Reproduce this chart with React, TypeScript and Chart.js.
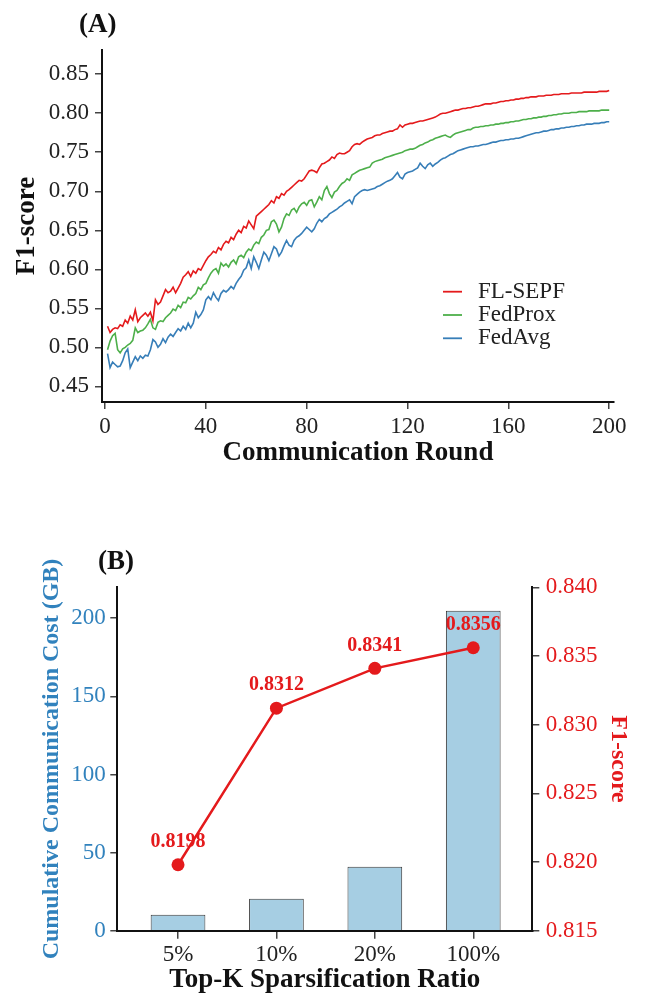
import React, { useEffect, useRef } from 'react';
import { Chart, registerables } from 'chart.js';

Chart.register(...registerables);

const FONT = '"Liberation Serif", "Times New Roman", serif';

// ---------- Panel (A) data ----------
const seriesNamesA = ['FL-SEPF', 'FedProx', 'FedAvg'];
const seriesColorsA = ['#e41a1c', '#4daf4a', '#377eb8'];

const flSepf = [
  0.527,0.519,0.523,0.525,0.524,0.529,0.527,0.535,0.531,0.540,
  0.535,0.548,0.533,0.538,0.541,0.544,0.540,0.545,0.534,0.561,
  0.555,0.558,0.566,0.574,0.570,0.572,0.577,0.570,0.576,0.582,
  0.590,0.593,0.597,0.591,0.598,0.595,0.601,0.599,0.605,0.611,
  0.616,0.619,0.623,0.621,0.628,0.625,0.632,0.636,0.634,0.641,
  0.638,0.645,0.650,0.647,0.655,0.653,0.662,0.657,0.652,0.668,
  0.671,0.674,0.677,0.680,0.683,0.688,0.685,0.693,0.691,0.697,
  0.695,0.700,0.702,0.705,0.708,0.711,0.714,0.713,0.716,0.721,
  0.726,0.727,0.726,0.724,0.730,0.735,0.736,0.738,0.740,0.744,
  0.742,0.747,0.749,0.748,0.748,0.750,0.752,0.757,0.760,0.761,
  0.760,0.763,0.765,0.767,0.768,0.769,0.771,0.772,0.772,0.774,
  0.775,0.776,0.777,0.777,0.779,0.780,0.785,0.782,0.785,0.786,
  0.787,0.787,0.788,0.789,0.790,0.790,0.791,0.792,0.793,0.794,
  0.795,0.797,0.799,0.800,0.800,0.801,0.802,0.803,0.804,0.804,
  0.805,0.806,0.806,0.807,0.807,0.808,0.809,0.809,0.810,0.811,
  0.812,0.812,0.812,0.813,0.813,0.814,0.815,0.815,0.816,0.816,
  0.817,0.817,0.818,0.818,0.819,0.819,0.820,0.820,0.821,0.821,
  0.821,0.822,0.822,0.822,0.823,0.823,0.823,0.824,0.824,0.824,
  0.825,0.825,0.825,0.825,0.826,0.826,0.826,0.826,0.826,0.827,
  0.827,0.827,0.827,0.827,0.827,0.828,0.828,0.828,0.828,0.829,
];

const fedProx = [
  0.497,0.508,0.515,0.518,0.497,0.493,0.498,0.500,0.503,0.505,
  0.509,0.525,0.519,0.521,0.522,0.525,0.530,0.536,0.525,0.523,
  0.532,0.534,0.533,0.538,0.541,0.544,0.549,0.547,0.554,0.551,
  0.558,0.557,0.564,0.562,0.566,0.569,0.577,0.574,0.580,0.582,
  0.589,0.595,0.599,0.601,0.595,0.608,0.604,0.607,0.603,0.609,
  0.612,0.607,0.616,0.618,0.615,0.622,0.626,0.624,0.631,0.635,
  0.633,0.641,0.644,0.650,0.651,0.661,0.663,0.658,0.648,0.654,
  0.665,0.671,0.669,0.676,0.678,0.673,0.680,0.684,0.686,0.682,
  0.688,0.689,0.680,0.686,0.693,0.689,0.701,0.706,0.697,0.692,
  0.699,0.701,0.706,0.710,0.712,0.716,0.714,0.721,0.723,0.725,
  0.727,0.728,0.729,0.730,0.731,0.736,0.738,0.739,0.740,0.741,
  0.743,0.744,0.745,0.746,0.747,0.748,0.749,0.750,0.752,0.753,
  0.754,0.754,0.755,0.757,0.759,0.760,0.762,0.763,0.765,0.766,
  0.768,0.769,0.770,0.771,0.772,0.770,0.769,0.772,0.774,0.775,
  0.776,0.777,0.778,0.779,0.779,0.781,0.782,0.782,0.783,0.783,
  0.784,0.784,0.785,0.785,0.786,0.786,0.787,0.787,0.788,0.788,
  0.789,0.789,0.790,0.790,0.791,0.792,0.792,0.793,0.793,0.794,
  0.794,0.795,0.795,0.796,0.796,0.797,0.797,0.798,0.798,0.799,
  0.799,0.800,0.800,0.800,0.801,0.801,0.801,0.802,0.802,0.802,
  0.802,0.803,0.803,0.803,0.803,0.803,0.804,0.804,0.804,0.804,
];

const fedAvg = [
  0.492,0.474,0.481,0.478,0.475,0.476,0.483,0.493,0.498,0.474,
  0.481,0.488,0.483,0.489,0.486,0.490,0.489,0.497,0.510,0.507,
  0.500,0.504,0.511,0.506,0.513,0.517,0.514,0.519,0.524,0.521,
  0.527,0.523,0.531,0.525,0.531,0.545,0.538,0.542,0.548,0.561,
  0.565,0.561,0.570,0.564,0.560,0.569,0.573,0.571,0.574,0.578,
  0.575,0.582,0.587,0.591,0.599,0.602,0.612,0.601,0.616,0.609,
  0.601,0.612,0.622,0.618,0.611,0.620,0.629,0.626,0.617,0.622,
  0.630,0.637,0.631,0.629,0.637,0.641,0.643,0.646,0.650,0.654,
  0.651,0.648,0.652,0.659,0.664,0.661,0.665,0.667,0.671,0.673,
  0.675,0.677,0.680,0.682,0.685,0.687,0.689,0.684,0.693,0.696,
  0.699,0.701,0.702,0.701,0.702,0.703,0.704,0.706,0.707,0.709,
  0.711,0.713,0.714,0.716,0.720,0.724,0.718,0.716,0.722,0.724,
  0.725,0.726,0.728,0.730,0.736,0.732,0.729,0.734,0.736,0.732,
  0.735,0.737,0.740,0.742,0.743,0.745,0.747,0.748,0.750,0.752,
  0.753,0.754,0.755,0.756,0.757,0.757,0.758,0.758,0.759,0.760,
  0.760,0.761,0.762,0.763,0.763,0.764,0.765,0.765,0.766,0.766,
  0.767,0.767,0.768,0.768,0.769,0.770,0.771,0.772,0.773,0.774,
  0.775,0.775,0.776,0.777,0.777,0.778,0.779,0.779,0.780,0.780,
  0.781,0.781,0.782,0.782,0.783,0.783,0.784,0.784,0.785,0.785,
  0.786,0.786,0.786,0.787,0.787,0.787,0.788,0.788,0.789,0.789,
];

const xTicksA = [0, 40, 80, 120, 160, 200];
const yTicksA = [0.45, 0.5, 0.55, 0.6, 0.65, 0.7, 0.75, 0.8, 0.85];

// ---------- Panel (B) data ----------
const ratioLabels = ['5%', '10%', '20%', '100%'];
const commCostGB = [10.24, 20.48, 40.96, 204.8];
const f1AtRatio = [0.8198, 0.8312, 0.8341, 0.8356];
const yTicksBLeft = [0, 50, 100, 150, 200];
const yTicksBRight = [0.815, 0.82, 0.825, 0.83, 0.835, 0.84];

const BLUE_AXIS = '#3182bd';
const RED = '#e41a1c';
const INK = '#222';

const setTicks = (vals: number[]) => (scale: any) => {
  scale.ticks = vals.map((v) => ({ value: v }));
};

const panelLabelPlugin = {
  id: 'panelLabel',
  afterDraw(chart: any, _args: any, opts: any) {
    const { ctx, chartArea } = chart;
    ctx.save();
    ctx.font = `bold 27px ${FONT}`;
    ctx.fillStyle = '#111';
    ctx.textAlign = 'left';
    ctx.textBaseline = 'middle';
    ctx.fillText(opts.text, chartArea.left + opts.dx, chartArea.top + opts.dy);
    ctx.restore();
  },
};

const lineLegendPlugin = {
  id: 'lineLegend',
  afterDraw(chart: any) {
    const { ctx, chartArea } = chart;
    const x0 = chartArea.right - 171;
    const y0 = chartArea.top + 241.7;
    ctx.save();
    ctx.font = `23px ${FONT}`;
    ctx.textAlign = 'left';
    ctx.textBaseline = 'middle';
    chart.data.datasets.forEach((ds: any, i: number) => {
      const y = y0 + i * 23.3;
      ctx.strokeStyle = ds.borderColor;
      ctx.lineWidth = 1.8;
      ctx.beginPath();
      ctx.moveTo(x0, y);
      ctx.lineTo(x0 + 19, y);
      ctx.stroke();
      ctx.fillStyle = INK;
      ctx.fillText(ds.label, x0 + 35, y);
    });
    ctx.restore();
  },
};

const pointValuePlugin = {
  id: 'pointValues',
  afterDatasetsDraw(chart: any) {
    const { ctx } = chart;
    chart.data.datasets.forEach((ds: any, di: number) => {
      if (ds.type !== 'line') return;
      const meta = chart.getDatasetMeta(di);
      ctx.save();
      ctx.font = `bold 20px ${FONT}`;
      ctx.fillStyle = RED;
      ctx.textAlign = 'center';
      ctx.textBaseline = 'middle';
      meta.data.forEach((el: any, i: number) => {
        ctx.fillText(f1AtRatio[i].toFixed(4), el.x, el.y - 23);
      });
      ctx.restore();
    });
  },
};

function axisGrid(tickLength: number) {
  return {
    drawOnChartArea: false,
    drawTicks: true,
    tickLength,
    color: '#444',
    lineWidth: 1.5,
  };
}

const axisBorder = { display: true, color: '#111', width: 2 };

export default function App() {
  const refA = useRef<HTMLCanvasElement>(null);
  const refB = useRef<HTMLCanvasElement>(null);

  useEffect(() => {
    const seriesA = [flSepf, fedProx, fedAvg];
    const chartA = new Chart(refA.current as HTMLCanvasElement, {
      type: 'line',
      data: {
        datasets: seriesA.map((vals, si) => ({
          label: seriesNamesA[si],
          data: vals.map((v, i) => ({ x: i + 1, y: v })),
          borderColor: seriesColorsA[si],
          borderWidth: 1.6,
          pointRadius: 0,
          tension: 0,
          fill: false,
        })),
      },
      options: {
        responsive: false,
        animation: false,
        events: [],
        layout: { padding: { top: 50, right: 31, left: 0, bottom: 0 } },
        plugins: {
          legend: { display: false },
          tooltip: { enabled: false },
          panelLabel: { text: '(A)', dx: -23, dy: -25 },
        } as any,
        scales: {
          x: {
            type: 'linear',
            min: -1.2,
            max: 201.9,
            afterBuildTicks: setTicks(xTicksA),
            afterFit: (s: any) => { s.height = 78; },
            grid: axisGrid(7),
            border: axisBorder,
            ticks: {
              color: INK,
              padding: 4,
              maxRotation: 0,
              font: { family: FONT, size: 23 },
              callback: (v: any) => String(v),
            },
            title: {
              display: true,
              text: 'Communication Round',
              color: '#111',
              font: { family: FONT, size: 27, weight: 'bold', lineHeight: 1.2 },
              padding: { top: 0, bottom: 10.8 },
            },
          },
          y: {
            type: 'linear',
            min: 0.43,
            max: 0.881,
            afterBuildTicks: setTicks(yTicksA),
            afterFit: (s: any) => { s.width = 102; },
            grid: axisGrid(7),
            border: axisBorder,
            ticks: {
              color: INK,
              padding: 6,
              font: { family: FONT, size: 23 },
              callback: (v: any) => Number(v).toFixed(2),
            },
            title: {
              display: true,
              text: 'F1-score',
              color: '#111',
              font: { family: FONT, size: 27, weight: 'bold', lineHeight: 1.2 },
              padding: { top: 10.8, bottom: 0 },
            },
          },
        },
      } as any,
      plugins: [panelLabelPlugin, lineLegendPlugin],
    });

    const chartB = new Chart(refB.current as HTMLCanvasElement, {
      type: 'bar',
      data: {
        datasets: [
          {
            type: 'line',
            label: 'F1-score',
            data: f1AtRatio.map((v, i) => ({ x: i, y: v })),
            yAxisID: 'y1',
            xAxisID: 'x',
            borderColor: RED,
            backgroundColor: RED,
            borderWidth: 2.5,
            pointRadius: 6.5,
            pointBackgroundColor: RED,
            pointBorderWidth: 0,
            tension: 0,
            order: 0,
          },
          {
            type: 'bar',
            label: 'Cumulative Communication Cost (GB)',
            data: commCostGB.map((v, i) => ({ x: i, y: v })),
            yAxisID: 'y',
            xAxisID: 'x',
            backgroundColor: '#a6cee3',
            borderColor: '#3a3a3a',
            borderWidth: 1,
            borderSkipped: 'start',
            categoryPercentage: 1,
            barPercentage: 0.556,
            order: 1,
          },
        ],
      },
      options: {
        responsive: false,
        animation: false,
        events: [],
        layout: { padding: { top: 107.3, right: 0, left: 0, bottom: 0 } },
        plugins: {
          legend: { display: false },
          tooltip: { enabled: false },
          panelLabel: { text: '(B)', dx: -19.3, dy: -25.6 },
        } as any,
        scales: {
          x: {
            type: 'linear',
            min: -0.617,
            max: 3.6,
            offset: false,
            afterBuildTicks: setTicks([0, 1, 2, 3]),
            afterFit: (s: any) => { s.height = 63.3; },
            grid: { ...axisGrid(8), offset: false },
            border: axisBorder,
            ticks: {
              color: INK,
              padding: 2,
              maxRotation: 0,
              font: { family: FONT, size: 23 },
              callback: (v: any) => ratioLabels[Math.round(Number(v))] ?? '',
            },
            title: {
              display: true,
              text: 'Top-K Sparsification Ratio',
              color: '#111',
              font: { family: FONT, size: 27, weight: 'bold', lineHeight: 1 },
              padding: { top: 0, bottom: 0.5 },
            },
          },
          y: {
            type: 'linear',
            position: 'left',
            min: 0,
            max: 219.8,
            afterBuildTicks: setTicks(yTicksBLeft),
            afterFit: (s: any) => { s.width = 117.3; },
            grid: axisGrid(7),
            border: axisBorder,
            ticks: {
              color: BLUE_AXIS,
              padding: 4.6,
              font: { family: FONT, size: 23 },
              callback: (v: any) => String(v),
            },
            title: {
              display: true,
              text: 'Cumulative Communication Cost (GB)',
              color: BLUE_AXIS,
              font: { family: FONT, size: 24, weight: 'bold', lineHeight: 1.2 },
              padding: { top: 37.6, bottom: 0 },
            },
          },
          y1: {
            type: 'linear',
            position: 'right',
            min: 0.815,
            max: 0.84,
            afterBuildTicks: setTicks(yTicksBRight),
            afterFit: (s: any) => { s.width = 112.7; },
            grid: axisGrid(7),
            border: axisBorder,
            ticks: {
              color: RED,
              padding: 6.4,
              font: { family: FONT, size: 23 },
              callback: (v: any) => Number(v).toFixed(3),
            },
            title: {
              display: true,
              text: 'F1-score',
              color: RED,
              font: { family: FONT, size: 24, weight: 'bold', lineHeight: 1.2 },
              padding: { top: 12.6, bottom: 0 },
            },
          },
        },
      } as any,
      plugins: [panelLabelPlugin, pointValuePlugin],
    });

    return () => {
      chartA.destroy();
      chartB.destroy();
    };
  }, []);

  return (
    <div
      style={{
        position: 'absolute',
        left: 0,
        top: 0,
        width: 645,
        height: 994,
        overflow: 'hidden',
        background: '#fff',
      }}
    >
      <canvas
        ref={refA}
        width={645}
        height={480}
        style={{ position: 'absolute', left: 0, top: 0, width: 645, height: 480 }}
      />
      <canvas
        ref={refB}
        width={645}
        height={514}
        style={{ position: 'absolute', left: 0, top: 480, width: 645, height: 514 }}
      />
    </div>
  );
}
